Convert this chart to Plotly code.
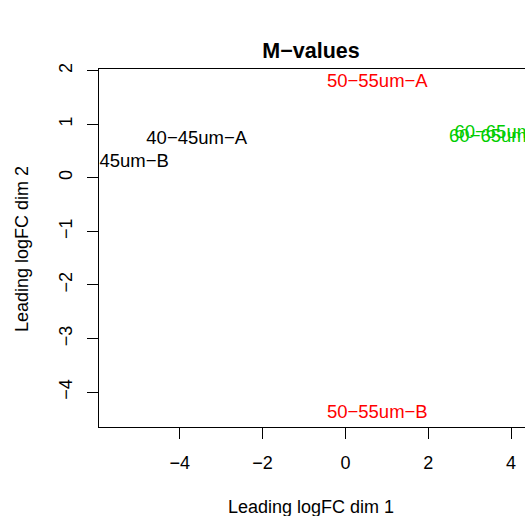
import plotly.graph_objects as go

# MDS coordinates (labels centred on the points)
labels = ["40\u221245um\u2212A", "40\u221245um\u2212B", "50\u221255um\u2212A", "50\u221255um\u2212B",
          "60\u221265um\u2212A", "60\u221265um\u2212B"]
dim1 = [-3.59, -5.48, 0.77, 0.77, 3.85, 3.72]
dim2 = [0.71, 0.28, 1.79, -4.40, 0.82, 0.75]
colours = ["black", "black", "#FF0000", "#FF0000", "#00CD00", "#00CD00"]

x_ticks = [-4, -2, 0, 2, 4]
y_ticks = [-4, -3, -2, -1, 0, 1, 2]

font = "Liberation Sans, Arial, sans-serif"

fig = go.Figure()
fig.add_trace(go.Scatter(
    x=dim1, y=dim2, mode="text", text=labels,
    textposition="middle center",
    textfont=dict(family=font, size=18.5, color=colours),
    cliponaxis=True, showlegend=False, hoverinfo="skip",
))

fig.update_layout(
    width=525, height=516,
    margin=dict(l=99, r=0, t=69, b=89),
    paper_bgcolor="white", plot_bgcolor="white",
    font=dict(family=font, size=18, color="black"),
    title=dict(text="<b>M\u2212values</b>", x=311 / 525, xanchor="center",
               y=1 - 50 / 516, yanchor="middle",
               font=dict(family=font, size=21.5, color="black")),
    annotations=[
        dict(text="Leading logFC dim 1", xref="paper", yref="paper", x=(311 - 99) / 426, y=0,
             xanchor="center", yanchor="middle", yshift=-80, showarrow=False,
             font=dict(family=font, size=18)),
        dict(text="Leading logFC dim 2", xref="paper", yref="paper", x=0, y=0.497,
             xanchor="center", yanchor="middle", xshift=-77, textangle=-90, showarrow=False,
             font=dict(family=font, size=18)),
    ],
)

fig.update_xaxes(
    range=[-5.95, 4.336], tickvals=x_ticks, showgrid=False, zeroline=False,
    showline=True, linecolor="black", linewidth=1, mirror=True,
    ticks="outside", ticklen=11, tickcolor="black", ticklabelstandoff=8,
    tickfont=dict(family=font, size=18),
)
fig.update_yaxes(
    range=[-4.65, 2.03], tickvals=y_ticks, showgrid=False, zeroline=False,
    showline=True, linecolor="black", linewidth=1,
    ticks="outside", ticklen=11, tickcolor="black", tickangle=-90, ticklabelstandoff=8,
    tickfont=dict(family=font, size=18),
)

fig.write_html("out.html", config={"displayModeBar": False},
               post_script="document.body.style.margin='0';")
